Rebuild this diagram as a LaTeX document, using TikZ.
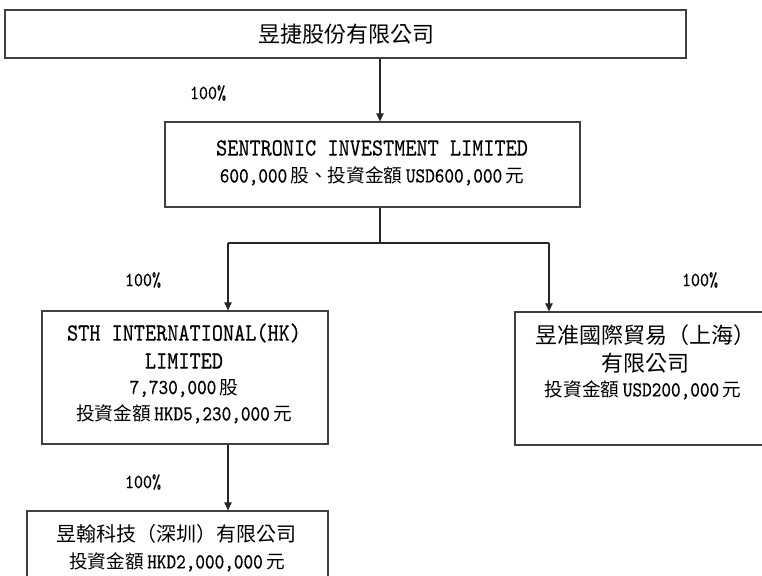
\documentclass[tikz,border=0pt]{standalone}
\usepackage{fontspec}
\newfontfamily\cjk{Noto Sans CJK TC}
\newfontfamily\lmmono{lmmono10-regular.otf}[FakeStretch=0.86,FakeBold=0.3]
\usetikzlibrary{arrows.meta,fit}
\newcommand{\zhN}{\cjk\fontsize{16.5}{20}\selectfont}
\newcommand{\zhM}{\cjk\fontsize{15}{18}\selectfont}
\newcommand{\zhD}{\cjk\fontsize{14}{17}\selectfont}
\newcommand{\ltN}{\lmmono\fontsize{18.5}{22}\selectfont}
\newcommand{\ltD}{\lmmono\fontsize{16}{19}\selectfont}
\newcommand{\gp}{\hspace{2.5pt}}
\begin{document}
\begin{tikzpicture}[x=0.75pt,y=-0.75pt,
  box/.style={draw=black!75, line width=0.9pt, inner sep=0pt},
  conn/.style={draw=black!85, line width=0.8pt},
  arr/.style={conn, -{Triangle[length=6pt,width=5.5pt]}},
  txt/.style={inner sep=0pt, anchor=center},
  pct/.style={inner sep=0pt, font=\lmmono\fontsize{15}{17}\selectfont}]
\useasboundingbox (0,0) rectangle (762,575);
% boxes
\node[box, fit={(5,10) (686,58)}] (top) {};
\node[box, fit={(165,122) (580,207)}] (sent) {};
\node[box, fit={(42,311) (328,444)}] (sth) {};
\node[box, fit={(515,312) (790,445)}] (rt) {};
\node[box, fit={(27,511) (328,600)}] (bot) {};
% texts
\node[txt] (t1) at (346,34) {\zhN 昱捷股份有限公司};
\node[txt] (s1) at (372,148) {\ltN SENTRONIC INVESTMENT LIMITED};
\node[txt] (s2) at (372,176) {{\ltD 600,000}\gp{\zhD 股、投資金額}\gp{\ltD USD600,000}\gp{\zhD 元}};
\node[txt] (h1) at (184,333) {\ltN STH INTERNATIONAL(HK)};
\node[txt] (h2) at (184,361) {\ltN LIMITED};
\node[txt] (h3) at (184,388) {{\ltD 7,730,000}\gp{\zhD 股}};
\node[txt] (h4) at (184,414) {{\zhD 投資金額}\gp{\ltD HKD5,230,000}\gp{\zhD 元}};
\node[txt] (r1) at (645,335) {\zhN 昱准國際貿易（上海）};
\node[txt] (r2) at (645,363) {\zhN 有限公司};
\node[txt] (r3) at (643,390) {{\zhD 投資金額}\gp{\ltD USD200,000}\gp{\zhD 元}};
\node[txt] (b1) at (176,534) {\zhM 昱翰科技（深圳）有限公司};
\node[txt] (b2) at (177,562) {{\zhD 投資金額}\gp{\ltD HKD2,000,000}\gp{\zhD 元}};
% percentages
\node[pct] (p1) at (208,93) {100\%};
\node[pct] (p2) at (143,280) {100\%};
\node[pct] (p3) at (700,280) {100\%};
\node[pct] (p4) at (143,482) {100\%};
% connectors
\coordinate (j1) at (380,243);
\coordinate (jl) at (228,243);
\coordinate (jr) at (549,243);
\draw[arr] (top.south -| j1) -- (sent.north -| j1);
\draw[conn] (sent.south -| j1) -- (j1);
\draw[conn] (jl) -- (jr);
\draw[arr] (jl) -- (sth.north -| jl);
\draw[arr] (jr) -- (rt.north -| jr);
\draw[arr] (sth.south -| jl) -- (bot.north -| jl);
\end{tikzpicture}
\end{document}
